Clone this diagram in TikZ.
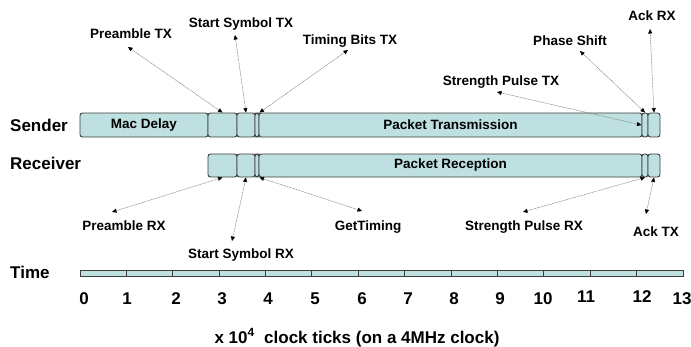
\documentclass[tikz,border=0pt]{standalone}
\usepackage{fontspec}
\setmainfont{Liberation Sans}
\usetikzlibrary{arrows.meta}
\definecolor{barfill}{RGB}{190,224,224}
\definecolor{barline}{RGB}{60,60,60}
\begin{document}
\begin{tikzpicture}[x=1pt,y=-1pt,
  seg/.style={draw=barline, fill=barfill, line width=0.9pt, rounded corners=2.5pt,
    inner sep=0pt, font=\bfseries\fontsize{13.5}{15}\selectfont},
  lbl/.style={font=\bfseries\fontsize{13.5}{15}\selectfont, inner sep=0pt, anchor=base},
  big/.style={font=\bfseries\fontsize{17}{19}\selectfont, inner sep=0pt, anchor=base},
  ptr/.style={draw=gray, line width=0.5pt, dash pattern=on 1pt off 0.6pt,
    {Triangle[length=4.5pt,width=4pt,color=black]}-{Triangle[length=4.5pt,width=4pt,color=black]}}
]
\useasboundingbox (0,0) rectangle (691,346);

% row labels
\node[big, anchor=base west] (snd) at (10,131) {Sender};
\node[big, anchor=base west] (rcv) at (10,169) {Receiver};
\node[big, anchor=base west] (tim) at (10,278) {Time};

% sender bar
\node[seg, minimum width=128, minimum height=24] (mac) at (144,125) {Mac Delay};
\node[seg, minimum width=29, minimum height=24] (s1) at (222.5,125) {};
\node[seg, minimum width=18, minimum height=24] (s2) at (246,125) {};
\node[seg, minimum width=4, minimum height=24] (s3) at (257,125) {};
\node[seg, minimum width=383, minimum height=24] (pkt) at (450.5,125) {Packet Transmission};
\node[seg, minimum width=6, minimum height=24] (s4) at (645,125) {};
\node[seg, minimum width=12, minimum height=24] (s5) at (654,125) {};

% receiver bar
\node[seg, minimum width=29, minimum height=23] (r1) at (222.5,165.5) {};
\node[seg, minimum width=18, minimum height=23] (r2) at (246,165.5) {};
\node[seg, minimum width=4, minimum height=23] (r3) at (257,165.5) {};
\node[seg, minimum width=383, minimum height=23] (rpkt) at (450.5,165.5) {Packet Reception};
\node[seg, minimum width=6, minimum height=23] (r4) at (645,165.5) {};
\node[seg, minimum width=12, minimum height=23] (r5) at (654,165.5) {};

% top labels
\node[lbl] (ptx) at (131,38) {Preamble TX};
\node[lbl] (sstx) at (241,27) {Start Symbol TX};
\node[lbl] (tbtx) at (350,44) {Timing Bits TX};
\node[lbl] (phs) at (570,45) {Phase Shift};
\node[lbl] (ackrx) at (652,20) {Ack RX};
\node[lbl] (sptx) at (501,85) {Strength Pulse TX};

% bottom labels
\node[lbl] (prx) at (124,230) {Preamble RX};
\node[lbl] (ssrx) at (241,258) {Start Symbol RX};
\node[lbl] (gt) at (368,230) {GetTiming};
\node[lbl] (sprx) at (524,230) {Strength Pulse RX};
\node[lbl] (acktx) at (656,236) {Ack TX};

% arrow label ends
\coordinate (ptx-e) at (128,47);
\coordinate (sstx-e) at (235,35);
\coordinate (tbtx-e) at (348,50);
\coordinate (phs-e) at (580,51);
\coordinate (ackrx-e) at (650,29);
\coordinate (sptx-e) at (497,92);
\coordinate (prx-e) at (112,212);
\coordinate (ssrx-e) at (232,241);
\coordinate (gt-e) at (362,211);
\coordinate (sprx-e) at (523,212);
\coordinate (acktx-e) at (646,214);

\draw[ptr] (ptx-e) -- (s1.north);
\draw[ptr] (sstx-e) -- (s2.north);
\draw[ptr] (tbtx-e) -- (s3.north east);
\draw[ptr] (phs-e) -- (s4.north);
\draw[ptr] (ackrx-e) -- (s5.north);
\draw[ptr] (sptx-e) -- ([xshift=-1pt]pkt.east);
\draw[ptr] (prx-e) -- (r1.south);
\draw[ptr] (ssrx-e) -- (r2.south);
\draw[ptr] (gt-e) -- (r3.south east);
\draw[ptr] (sprx-e) -- (r4.south);
\draw[ptr] (acktx-e) -- (r5.south);

% time bar
\node[draw=barline, fill=barfill, line width=0.8pt, minimum width=603, minimum height=6, inner sep=0pt] (tbar) at (381.5,273) {};
\foreach \i in {1,...,12}
  \draw[barline, line width=0.9pt] ({80+\i*46.385},270) -- ({80+\i*46.385},276);

% tick numbers
\foreach \n/\x/\y in {0/84/304,1/127/304,2/176/304,3/222/304,4/268/304,5/315/304,6/362/304,7/408/304,8/454/304,9/500/304,10/543/304,11/586/302,12/642/302,13/682/304}
  \node[big] (n\n) at (\x,\y) {\n};

\node[big] (cap) at (357,343) {x 10\textsuperscript{4}\ \ clock ticks (on a 4MHz clock)};
\end{tikzpicture}
\end{document}
